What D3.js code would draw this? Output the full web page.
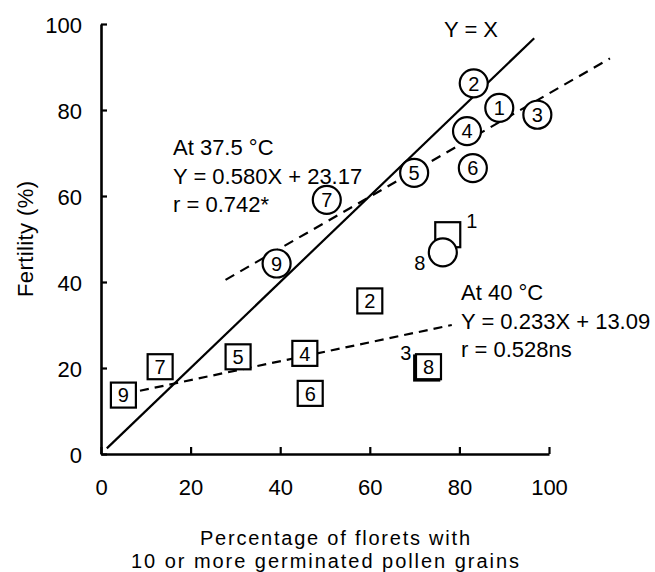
<!DOCTYPE html>
<html>
<head>
<meta charset="utf-8">
<script src="https://cdn.jsdelivr.net/npm/d3@7"></script>
<style>
  body { margin: 0; background: #fff; }
  text { font-family: "Liberation Sans", Arial, sans-serif; fill: #000; }
</style>
</head>
<body>
<div id="chart"></div>
<script>
// 37.5 C (circles) and 40 C (squares): cultivar number, pollen %, fertility %
var circleIds = [1, 2, 3, 4, 5, 6, 7, 8, 9];
var circleX = [88.9, 83.2, 97.4, 81.7, 69.9, 83.0, 50.4, 76.3, 39.2];
var circleY = [80.5, 86.2, 78.9, 75.1, 65.4, 66.5, 59.1, 46.9, 44.3];

var squareIds = [1, 2, 3, 4, 5, 6, 7, 8, 9];
var squareX = [77.4, 60.0, 72.7, 45.5, 30.6, 46.7, 13.2, 73.1, 5.0];
var squareY = [51.0, 35.6, 20.0, 23.4, 22.6, 14.1, 20.3, 20.3, 13.7];

// points whose number is written beside the mark (overlapping marks)
var circleOutside = [8];
var squareOutside = [1, 3];

// lines: [x, y] end points
var lineYX = [[1.3, 1.3], [96.7, 96.7]];
var line375 = [[27.8, 40.5], [113.6, 92.0]];
var line40 = [[8.7, 14.7], [78.3, 30.0]];

var text375 = ["At 37.5 \u00B0C", "Y = 0.580X + 23.17", "r = 0.742*"];
var text40 = ["At 40 \u00B0C", "Y = 0.233X + 13.09", "r = 0.528ns"];
var textYX = "Y = X";

var xTicks = [0, 20, 40, 60, 80, 100];
var yTicks = [0, 20, 40, 60, 80, 100];
var xTitle = ["Percentage of florets with", "10 or more germinated pollen grains"];
var yTitle = "Fertility (%)";

var W = 655, H = 572;
var margin = { top: 24, left: 101 },
    width = 448,
    height = 430;

var svg = d3.select("#chart").append("svg")
    .attr("width", W)
    .attr("height", H);

var g = svg.append("g")
    .attr("transform", "translate(" + margin.left + "," + margin.top + ")");

var x = d3.scaleLinear().domain([0, 100]).range([0, width]);
var y = d3.scaleLinear().domain([0, 100]).range([height, 0]);

// axes with inward ticks
var xAxis = g.append("g")
    .attr("transform", "translate(0," + height + ")")
    .call(d3.axisBottom(x).tickValues(xTicks).tickSize(-7).tickSizeOuter(0).tickPadding(25));
var yAxis = g.append("g")
    .call(d3.axisLeft(y).tickValues(yTicks).tickSize(-6).tickSizeOuter(0).tickPadding(19));

[xAxis, yAxis].forEach(a => {
    a.select(".domain").attr("stroke", "#000").attr("stroke-width", 2.6);
    a.selectAll(".tick line").attr("stroke", "#000").attr("stroke-width", 2.2);
    a.selectAll(".tick text")
        .style("font-family", "'Liberation Sans', Arial, sans-serif")
        .style("font-size", "22px")
        .attr("fill", "#000");
});
yAxis.selectAll(".tick text").attr("dy", "0.38em");

// axis titles
g.append("text")
    .attr("transform", "translate(" + (25 - margin.left) + "," + (239 - margin.top) + ") rotate(-90)")
    .attr("text-anchor", "middle")
    .attr("dy", "0.35em")
    .attr("textLength", 116)
    .attr("lengthAdjust", "spacing")
    .style("font-size", "22px")
    .text(yTitle);

var titleWidths = [270, 388];
g.selectAll("text.xtitle")
    .data(xTitle)
    .enter()
    .append("text")
    .attr("class", "xtitle")
    .attr("x", (d, i) => i == 0 ? 335 - margin.left : 325 - margin.left)
    .attr("y", (d, i) => 545 - margin.top + i * 22.5)
    .attr("text-anchor", "middle")
    .attr("textLength", (d, i) => titleWidths[i])
    .attr("lengthAdjust", "spacing")
    .style("font-size", "20px")
    .text(d => d);

// lines
var lineGen = d3.line().x(d => x(d[0])).y(d => y(d[1]));

g.append("path")
    .datum(lineYX)
    .attr("d", lineGen)
    .attr("fill", "none")
    .attr("stroke", "#000")
    .attr("stroke-width", 2.2);

g.append("path")
    .datum(line375)
    .attr("d", lineGen)
    .attr("fill", "none")
    .attr("stroke", "#000")
    .attr("stroke-width", 2.2)
    .attr("stroke-dasharray", "10,7");

g.append("path")
    .datum(line40)
    .attr("d", lineGen)
    .attr("fill", "none")
    .attr("stroke", "#000")
    .attr("stroke-width", 2.2)
    .attr("stroke-dasharray", "9,6");

// squares (40 C)
var squares = squareIds.map((id, i) => ({ id: id, x: squareX[i], y: squareY[i] }));
var sq = g.selectAll("g.sq")
    .data(squares)
    .enter()
    .append("g")
    .attr("class", "sq")
    .attr("transform", d => "translate(" + x(d.x) + "," + y(d.y) + ")");

sq.append("rect")
    .attr("x", -12.5)
    .attr("y", -12.5)
    .attr("width", 25)
    .attr("height", 25)
    .attr("fill", "#fff")
    .attr("stroke", "#000")
    .attr("stroke-width", 2.2);

sq.filter(d => squareOutside.indexOf(d.id) < 0)
    .append("text")
    .attr("text-anchor", "middle")
    .attr("dy", "0.36em")
    .style("font-size", "20px")
    .text(d => d.id);

// circles (37.5 C)
var circles = circleIds.map((id, i) => ({ id: id, x: circleX[i], y: circleY[i] }));
var ci = g.selectAll("g.ci")
    .data(circles)
    .enter()
    .append("g")
    .attr("class", "ci")
    .attr("transform", d => "translate(" + x(d.x) + "," + y(d.y) + ")");

ci.append("circle")
    .attr("r", 14)
    .attr("fill", "#fff")
    .attr("stroke", "#000")
    .attr("stroke-width", 2.2);

ci.filter(d => circleOutside.indexOf(d.id) < 0)
    .append("text")
    .attr("text-anchor", "middle")
    .attr("dy", "0.36em")
    .style("font-size", "20px")
    .text(d => d.id);

// numbers written outside overlapping marks
sq.filter(d => d.id == 1).append("text")
    .attr("x", 24).attr("y", -14).attr("dy", "0.36em")
    .attr("text-anchor", "middle")
    .style("font-size", "20px")
    .text(d => d.id);
sq.filter(d => d.id == 3).append("text")
    .attr("x", -21).attr("y", -15).attr("dy", "0.36em")
    .attr("text-anchor", "middle")
    .style("font-size", "20px")
    .text(d => d.id);
ci.filter(d => d.id == 8).append("text")
    .attr("x", -23).attr("y", 10).attr("dy", "0.36em")
    .attr("text-anchor", "middle")
    .style("font-size", "20px")
    .text(d => d.id);

// annotations
function annot(lines, px, py) {
    g.selectAll(null)
        .data(lines)
        .enter()
        .append("text")
        .attr("x", px - margin.left)
        .attr("y", (d, i) => py - margin.top + i * 28.5)
        .style("font-size", "22px")
        .text(d => d);
}
annot(text375, 173, 155);
annot(text40, 461, 300);

g.append("text")
    .attr("x", 444 - margin.left)
    .attr("y", 37 - margin.top)
    .style("font-size", "22px")
    .text(textYX);
</script>
</body>
</html>
